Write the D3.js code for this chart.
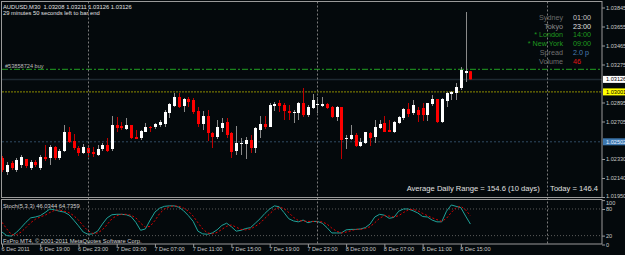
<!DOCTYPE html>
<html>
<head>
<meta charset="utf-8">
<script src="https://cdn.jsdelivr.net/npm/d3@7"></script>
<style>
  body { margin: 0; background: #04090c; }
  svg { display: block; font-family: "Liberation Sans", Arial, sans-serif; }
  text { white-space: pre; }
</style>
</head>
<body>
<svg id="chart" width="625" height="255"></svg>
<script>
// AUDUSD M30 bars, 6 Dec 15:00 .. 8 Dec 16:00
var opens = [
  1.0234, 1.0220, 1.0229, 1.0222, 1.0227, 1.0233, 1.0224, 1.0230, 1.0224, 1.0235,
  1.0234, 1.0245, 1.0234, 1.0241, 1.0260, 1.0251, 1.0244, 1.0239, 1.0244, 1.0240,
  1.0237, 1.0243, 1.0247, 1.0243, 1.0267, 1.0266, 1.0263, 1.0267, 1.0255, 1.0254,
  1.0260, 1.0265, 1.0265, 1.0267, 1.0268, 1.0279, 1.0286, 1.0295, 1.0286, 1.0293,
  1.0292, 1.0281, 1.0268, 1.0276, 1.0259, 1.0255, 1.0264, 1.0270, 1.0259, 1.0241,
  1.0248, 1.0248, 1.0252, 1.0244, 1.0262, 1.0268, 1.0265, 1.0286, 1.0289, 1.0287,
  1.0281, 1.0279, 1.0279, 1.0289, 1.0277, 1.0284, 1.0287, 1.0286, 1.0288, 1.0285,
  1.0275, 1.0285, 1.0253, 1.0253, 1.0257, 1.0246, 1.0249, 1.0259, 1.0255, 1.0264,
  1.0269, 1.0262, 1.0260, 1.0269, 1.0274, 1.0283, 1.0279, 1.0282, 1.0284, 1.0277,
  1.0288, 1.0293, 1.0270, 1.0291, 1.0298, 1.0299, 1.0304, 1.0319, 1.03208
];
var highs = [
  1.0236, 1.0230, 1.0231, 1.0234, 1.0237, 1.0233, 1.0232, 1.0232, 1.0237, 1.0247,
  1.0247, 1.0246, 1.0243, 1.0267, 1.0265, 1.0258, 1.0246, 1.0248, 1.0247, 1.0245,
  1.0247, 1.0249, 1.0254, 1.0276, 1.0275, 1.0270, 1.0274, 1.0267, 1.0262, 1.0262,
  1.0269, 1.0266, 1.0269, 1.0272, 1.0282, 1.0289, 1.0299, 1.0299, 1.0294, 1.0295,
  1.0294, 1.0285, 1.0281, 1.0282, 1.0260, 1.0272, 1.0274, 1.0274, 1.0260, 1.0266,
  1.0254, 1.0255, 1.0257, 1.0265, 1.0276, 1.0276, 1.0289, 1.0290, 1.0292, 1.0289,
  1.0287, 1.0282, 1.0290, 1.0304, 1.0287, 1.0298, 1.0295, 1.0295, 1.0289, 1.0286,
  1.0286, 1.0285, 1.0257, 1.0267, 1.0259, 1.0254, 1.0260, 1.0260, 1.0272, 1.0272,
  1.0276, 1.0272, 1.0271, 1.0276, 1.0284, 1.0289, 1.0292, 1.0285, 1.0289, 1.0289,
  1.0297, 1.0293, 1.0294, 1.0300, 1.0301, 1.0309, 1.0325, 1.0380, 1.03211
];
var lows = [
  1.0220, 1.0217, 1.0222, 1.0220, 1.0224, 1.0224, 1.0222, 1.0225, 1.0222, 1.0231,
  1.0227, 1.0232, 1.0232, 1.0240, 1.0249, 1.0242, 1.0236, 1.0238, 1.0235, 1.0235,
  1.0236, 1.0241, 1.0240, 1.0241, 1.0260, 1.0262, 1.0262, 1.0253, 1.0253, 1.0252,
  1.0260, 1.0260, 1.0263, 1.0265, 1.0265, 1.0274, 1.0285, 1.0284, 1.0280, 1.0285,
  1.0278, 1.0265, 1.0262, 1.0251, 1.0244, 1.0253, 1.0260, 1.0254, 1.0234, 1.0237,
  1.0237, 1.0233, 1.0239, 1.0239, 1.0254, 1.0263, 1.0265, 1.0281, 1.0280, 1.0272,
  1.0272, 1.0269, 1.0272, 1.0275, 1.0275, 1.0283, 1.0279, 1.0285, 1.0283, 1.0274,
  1.0271, 1.0233, 1.0243, 1.0252, 1.0245, 1.0245, 1.0248, 1.0246, 1.0249, 1.0263,
  1.0260, 1.0260, 1.0259, 1.0268, 1.0272, 1.0275, 1.0277, 1.0270, 1.0271, 1.0271,
  1.0286, 1.0269, 1.0269, 1.0285, 1.0292, 1.0292, 1.0302, 1.0310, 1.03126
];
var closes = [
  1.0222, 1.0227, 1.0224, 1.0232, 1.0235, 1.0226, 1.0230, 1.0227, 1.0235, 1.0233,
  1.0245, 1.0234, 1.0241, 1.0260, 1.0250, 1.0244, 1.0239, 1.0245, 1.0239, 1.0238,
  1.0243, 1.0247, 1.0241, 1.0267, 1.0264, 1.0264, 1.0267, 1.0254, 1.0253, 1.0261,
  1.0265, 1.0264, 1.0268, 1.0270, 1.0280, 1.0288, 1.0295, 1.0285, 1.0293, 1.0290,
  1.0280, 1.0268, 1.0276, 1.0259, 1.0255, 1.0265, 1.0269, 1.0257, 1.0240, 1.0249,
  1.0249, 1.0252, 1.0244, 1.0264, 1.0268, 1.0265, 1.0287, 1.0288, 1.0286, 1.0281,
  1.0279, 1.0280, 1.0289, 1.0277, 1.0285, 1.0292, 1.0288, 1.0288, 1.0284, 1.0275,
  1.0285, 1.0252, 1.0254, 1.0257, 1.0246, 1.0250, 1.0260, 1.0254, 1.0265, 1.0268,
  1.0260, 1.0260, 1.0270, 1.0275, 1.0283, 1.0278, 1.0287, 1.0277, 1.0277, 1.0289,
  1.0293, 1.0270, 1.0293, 1.0299, 1.0300, 1.0305, 1.0322, 1.0321, 1.03126
];

// Stoch(5,3,3) main and signal
var stochMain = [
  28, 20, 19, 27, 38, 50, 60, 62, 65, 72, 80, 78, 75, 73, 67, 55, 42, 28, 23, 24,
  30, 46, 60, 67, 68, 68, 67, 63, 50, 32, 35, 55, 73, 82, 86, 87, 87, 84, 76, 65,
  52, 30, 24, 23, 26, 33, 43, 48, 40, 30, 32, 36, 38, 48, 58, 70, 80, 87, 85, 72,
  58, 53, 51, 55, 49, 52, 52, 48, 38, 26, 26, 26, 33, 34, 34, 35, 38, 46, 62, 68,
  66, 59, 61, 75, 80, 80, 76, 71, 63, 62, 55, 51, 51, 75, 89, 86, 83, 64, 46.03
];
var stochSignal = [
  50, 35, 22, 22, 28, 38, 49, 57, 62, 66, 72, 77, 78, 75, 72, 65, 55, 42, 31, 25,
  26, 33, 45, 58, 65, 68, 68, 66, 60, 48, 39, 41, 54, 70, 80, 85, 87, 86, 82, 75,
  64, 49, 35, 26, 24, 27, 34, 41, 44, 39, 34, 33, 35, 41, 48, 59, 69, 79, 84, 81,
  72, 61, 54, 53, 52, 52, 51, 51, 46, 37, 30, 26, 28, 31, 34, 34, 36, 40, 49, 59,
  65, 64, 62, 65, 72, 78, 79, 76, 70, 65, 60, 56, 52, 59, 72, 83, 86, 78, 64.74
];

var timeLabels = ["6 Dec 2011", "6 Dec 19:00", "6 Dec 23:00", "7 Dec 03:00", "7 Dec 07:00",
  "7 Dec 11:00", "7 Dec 15:00", "7 Dec 19:00", "7 Dec 23:00", "8 Dec 03:00",
  "8 Dec 07:00", "8 Dec 11:00", "8 Dec 15:00"];
var timeLabelBars = [0, 8, 16, 24, 32, 40, 48, 56, 64, 72, 80, 88, 96];
var daySeparatorBars = [18, 66, 114];

var priceTicks = [1.03845, 1.03655, 1.03465, 1.03275, 1.02895, 1.02705, 1.02330, 1.02140, 1.01950];
var stochTicks = [100, 80, 20, 0];
var stochLevels = [80, 20];

var bidPrice = 1.03126, orderPrice = 1.03227, yellowLevel = 1.03001, blueLevel = 1.02502;

var sessions = [
  { name: "Sydney", time: "01:00", c1: "#6b6b6b", c2: "#c8c8c8" },
  { name: "Tokyo", time: "23:00", c1: "#8c8c8c", c2: "#e0e0e0" },
  { name: "* London", time: "14:00", c1: "#1f9a1f", c2: "#1f9a1f" },
  { name: "* New York", time: "09:00", c1: "#1f9a1f", c2: "#1f9a1f" },
  { name: "Spread", time: "2.0 p", c1: "#707070", c2: "#4a7fb5" },
  { name: "Volume", time: "46", c1: "#707070", c2: "#e01515" }
];

var svg = d3.select("#chart");
var W = 625, H = 255;
var left = 2, right = 602;
var mainTop = 1.5, mainBottom = 197.5, stTop = 199.5, stBottom = 244;

svg.append("rect").attr("width", W).attr("height", H).attr("fill", "#04090c");

var x = d3.scaleLinear().domain([0, 98]).range([2, 470.4]);
var y = d3.scaleLinear().domain([1.03845, 1.01950]).range([7.5, 197]);
var ys = d3.scaleLinear().domain([0, 100]).range([244.5, 200.1]);

svg.append("clipPath").attr("id", "mainClip")
  .append("rect").attr("x", left).attr("y", mainTop).attr("width", right - left).attr("height", mainBottom - mainTop);
svg.append("clipPath").attr("id", "stClip")
  .append("rect").attr("x", left).attr("y", stTop).attr("width", right - left).attr("height", stBottom - stTop);

var gMain = svg.append("g").attr("clip-path", "url(#mainClip)");
var gSt = svg.append("g").attr("clip-path", "url(#stClip)");

// day separators
daySeparatorBars.forEach(function (b) {
  svg.append("line")
    .attr("x1", Math.round(x(b)) + 0.5).attr("x2", Math.round(x(b)) + 0.5)
    .attr("y1", mainTop).attr("y2", stBottom)
    .attr("stroke", "#7a7a7a").attr("stroke-dasharray", "2,2");
});

// horizontal lines
gMain.append("line").attr("x1", left).attr("x2", right)
  .attr("y1", y(bidPrice)).attr("y2", y(bidPrice))
  .attr("stroke", "#1e2a32").attr("stroke-width", 1.5);
gMain.append("line").attr("x1", left).attr("x2", right)
  .attr("y1", y(orderPrice)).attr("y2", y(orderPrice))
  .attr("stroke", "#22a022").attr("stroke-dasharray", "6,2,2,2");
gMain.append("line").attr("x1", left).attr("x2", right)
  .attr("y1", y(yellowLevel)).attr("y2", y(yellowLevel))
  .attr("stroke", "#8c8c00").attr("stroke-dasharray", "2,1");
gMain.append("line").attr("x1", left).attr("x2", right)
  .attr("y1", y(blueLevel)).attr("y2", y(blueLevel))
  .attr("stroke", "#2f4a63").attr("stroke-dasharray", "2,2");

// candles
var bars = d3.range(opens.length);
gMain.selectAll(".wick").data(bars).enter().append("line")
  .attr("x1", function (i) { return Math.round(x(i)) + 0.5; })
  .attr("x2", function (i) { return Math.round(x(i)) + 0.5; })
  .attr("y1", function (i) { return y(highs[i]); })
  .attr("y2", function (i) { return y(lows[i]); })
  .attr("stroke", function (i) { return closes[i] >= opens[i] ? "#8a8a8a" : "#c00000"; });
gMain.selectAll(".body").data(bars).enter().append("rect")
  .attr("x", function (i) { return Math.round(x(i)) - 1; })
  .attr("width", 3)
  .attr("y", function (i) { return y(Math.max(opens[i], closes[i])); })
  .attr("height", function (i) { return Math.max(1, y(Math.min(opens[i], closes[i])) - y(Math.max(opens[i], closes[i]))); })
  .attr("fill", function (i) { return closes[i] >= opens[i] ? "#ffffff" : "#ff0000"; });

// stochastic
stochLevels.forEach(function (v) {
  gSt.append("line").attr("x1", left).attr("x2", right)
    .attr("y1", ys(v)).attr("y2", ys(v))
    .attr("stroke", "#5a5a5a").attr("stroke-dasharray", "1,2");
});
var line = d3.line().x(function (d, i) { return x(i); });
gSt.append("path").datum(stochMain)
  .attr("d", line.y(function (d) { return ys(d); }))
  .attr("fill", "none").attr("stroke", "#20a39a").attr("stroke-width", 1);
gSt.append("path").datum(stochSignal)
  .attr("d", line.y(function (d) { return ys(d); }))
  .attr("fill", "none").attr("stroke", "#e00000").attr("stroke-width", 1).attr("stroke-dasharray", "2,2");

// frames
svg.append("rect").attr("x", 1.5).attr("y", mainTop).attr("width", right - 1.5).attr("height", mainBottom - mainTop)
  .attr("fill", "none").attr("stroke", "#9a9a9a");
svg.append("rect").attr("x", 1.5).attr("y", stTop).attr("width", right - 1.5).attr("height", stBottom - stTop)
  .attr("fill", "none").attr("stroke", "#9a9a9a");

// price axis
var yAxis = d3.axisRight(y).tickValues(priceTicks).tickSize(3).tickFormat(d3.format(".5f"));
var ga = svg.append("g").attr("transform", "translate(" + right + ",0)").call(yAxis);
ga.select(".domain").remove();
ga.selectAll("line").attr("stroke", "#9a9a9a");
ga.selectAll("text").attr("fill", "#c8c8c8").attr("font-size", 5.6).attr("x", 4);
ga.selectAll(".tick").filter(function (d) { return d === 1.01950; }).select("text").attr("dy", "0.1em");

function priceLabel(p, bg, fg) {
  var g = svg.append("g");
  g.append("rect").attr("x", 603).attr("y", y(p) - 3.5).attr("width", 22).attr("height", 7).attr("fill", bg);
  g.append("text").attr("x", 606).attr("y", y(p) + 2).attr("font-size", 5.6).attr("fill", fg).text(d3.format(".5f")(p));
}
priceLabel(bidPrice, "#ffffff", "#000000");
priceLabel(yellowLevel, "#ffff00", "#000000");
priceLabel(blueLevel, "#3d78b0", "#e8f0ff");

// stoch axis
var sAxis = d3.axisRight(ys).tickValues(stochTicks).tickSize(3);
var gs = svg.append("g").attr("transform", "translate(" + right + ",0)").call(sAxis);
gs.select(".domain").remove();
gs.selectAll("line").attr("stroke", "#9a9a9a");
gs.selectAll("text").attr("fill", "#c8c8c8").attr("font-size", 5.6).attr("x", 4);
gs.selectAll(".tick").filter(function (d) { return d === 100; }).select("text").attr("dy", "0.75em");

// time axis
var tAxis = d3.axisBottom(x).tickValues(timeLabelBars).tickSize(3)
  .tickFormat(function (d, k) { return timeLabels[k]; });
var gt = svg.append("g").attr("transform", "translate(0," + stBottom + ")").call(tAxis);
gt.select(".domain").remove();
gt.selectAll("line").attr("stroke", "#9a9a9a");
gt.selectAll("text").attr("fill", "#c8c8c8").attr("font-size", 5.6)
  .attr("text-anchor", "start").attr("dx", "-1").attr("y", 3.5);

// texts
function txt(t, xx, yy, size, color, anchor) {
  return svg.append("text").attr("x", xx).attr("y", yy).attr("font-size", size)
    .attr("fill", color).attr("text-anchor", anchor || "start").text(t);
}
txt("AUDUSD,M30  1.03208 1.03211 1.03126 1.03126", 3, 8.5, 5.8, "#e0e0e0");
txt("29 minutes 50 seconds left to bar end", 3, 14.5, 5.8, "#e0e0e0");
txt("#53858724 buy", 5, 67.8, 5.6, "#bdbdbd");
txt("Average Daily Range = 154.6 (10 days)     Today = 146.4", 598, 190.5, 7.6, "#e0e0e0", "end");
txt("Stoch(5,3,3) 46.0344 64.7359", 3, 207.5, 5.8, "#d0d0d0");
txt("FxPro MT4, \u00a9 2001-2011 MetaQuotes Software Corp.", 3, 242.5, 5.8, "#d0d0d0");

sessions.forEach(function (s, k) {
  txt(s.name, 563, 20 + k * 8.7, 7.2, s.c1, "end");
  txt(s.time, 573, 20 + k * 8.7, 7.2, s.c2);
});
</script>
</body>
</html>
